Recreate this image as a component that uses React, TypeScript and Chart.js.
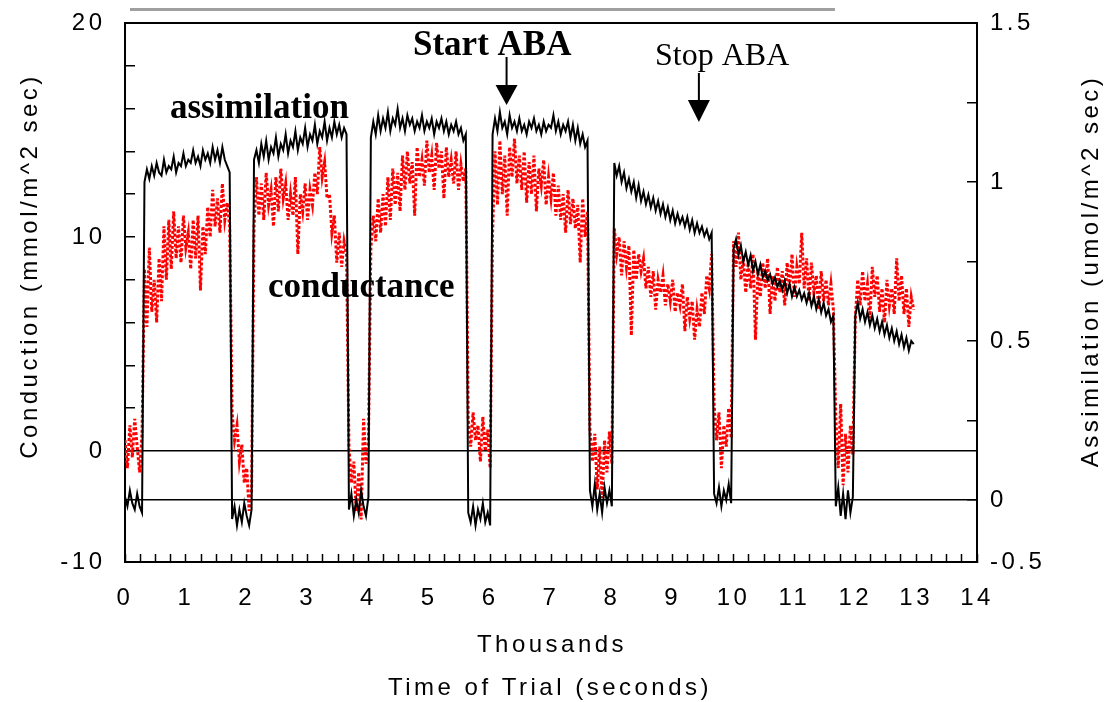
import React, { useEffect, useRef } from 'react';
import { Chart, registerables } from 'chart.js';

Chart.register(...registerables);

// ---- data (time in thousands of seconds, sampled every 0.04) ----
const SAMPLE_STEP = 0.04;

// Conductance (left axis, mmol/m^2 sec) – red dashed trace
const conductance: number[] = [
  // dark 0.00-0.28
  0.5, -0.8, 1.2, -0.3, 1.5, 0.2, -1.0, 0.8,
  // light 0.32-1.72
  8.5, 5.8, 9.5, 6.5, 8.0, 6.0, 9.0, 7.0, 10.5, 8.0, 10.8, 8.5, 11.2, 9.0, 10.5, 8.8,
  11.0, 9.5, 10.2, 8.5, 10.8, 9.0, 11.0, 7.5, 10.5, 9.2, 11.4, 10.0, 12.2, 10.5, 11.8, 10.2,
  12.5, 10.8, 11.6, 10.5,
  // dark 1.76-2.08
  1.8, 0.5, 1.2, -0.5, 0.3, -1.5, -0.8, -2.8, -1.8,
  // light 2.12-3.64
  10.5, 12.8, 11.0, 12.5, 10.8, 13.0, 11.5, 12.2, 10.5, 12.8, 11.2, 13.2, 11.8, 12.5, 10.8, 12.0,
  11.0, 12.8, 9.2, 12.0, 11.2, 12.5, 10.8, 12.2, 11.5, 13.0, 12.0, 14.2, 12.8, 13.5, 11.8, 12.0,
  10.2, 11.0, 8.8, 10.2, 8.6, 9.8, 9.2,
  // dark 3.68-4.00
  0.2, -1.5, -0.5, -2.8, -1.0, -3.2, 1.5, -0.6, 0.4,
  // light 4.04-5.60
  9.5, 11.0, 9.8, 11.8, 10.2, 12.0, 10.5, 12.8, 10.8, 13.2,
  11.5, 13.0, 11.2, 13.8, 12.2, 14.0, 12.5, 13.5, 11.0, 14.2,
  12.8, 13.6, 12.4, 14.5, 13.0, 13.8, 12.2, 14.4, 13.2, 14.0,
  11.8, 14.2, 12.8, 13.6, 12.5, 14.0, 12.2, 13.4, 12.6, 13.2,
  // dark 5.64-6.00
  1.5, 0.2, 1.8, 0.5, 1.2, -0.5, 1.6, 0.0, 1.0, -0.8,
  // light 6.04-7.60
  10.2, 14.0, 11.5, 14.5, 12.0, 13.8, 11.0, 14.2, 12.8, 14.6,
  12.5, 13.8, 12.2, 14.0, 11.6, 13.5, 12.0, 13.8, 11.2, 13.2,
  12.4, 13.6, 11.5, 12.8, 11.8, 13.0, 11.0, 12.4, 10.8, 12.0,
  10.2, 12.2, 10.6, 11.8, 10.4, 11.5, 8.8, 11.8, 10.0, 11.2,
  // dark 7.64-8.00
  1.0, -0.5, 0.8, -1.8, 0.2, -2.2, 0.5, -1.0, 0.9, -0.6,
  // light 8.04-9.64
  10.4, 9.2, 10.0, 8.2, 9.8, 8.6, 9.6, 5.4, 9.4, 8.0,
  9.2, 8.4, 9.0, 7.6, 8.6, 7.2, 8.4, 6.6, 8.0, 7.4,
  8.2, 6.8, 7.8, 7.0, 8.0, 6.5, 7.4, 6.8, 7.8, 5.6,
  7.2, 6.2, 7.0, 5.2, 6.6, 5.8, 7.4, 6.4, 8.2, 7.6,
  9.2,
  // dark 9.68-9.96
  2.2, 0.5, 1.8, -0.8, 1.2, 0.2, 2.0, 0.6,
  // light 10.00-11.64
  9.8, 8.6, 10.2, 8.0, 9.0, 7.4, 8.8, 7.6, 9.2, 5.2,
  8.4, 7.2, 8.8, 7.6, 9.0, 6.4, 8.2, 7.0, 8.6, 7.4,
  8.4, 6.8, 8.8, 7.6, 9.2, 7.2, 8.6, 7.8, 10.2, 7.6,
  9.0, 7.0, 8.8, 7.4, 8.2, 6.6, 8.4, 7.0, 8.0, 6.8,
  7.8, 6.6,
  // dark 11.68-11.96
  1.5, -0.8, 2.2, -1.6, 0.8, -1.0, 1.2, -0.2,
  // light 12.00-12.96
  6.2, 8.0, 6.8, 8.4, 7.0, 7.8, 6.2, 8.6, 7.2, 8.2,
  6.5, 7.6, 6.0, 8.0, 6.8, 7.6, 6.4, 9.0, 7.0, 8.2,
  6.4, 7.6, 5.8, 7.2, 6.6,
];

// Assimilation (right axis, umol/m^2 sec) – black solid trace
const assimilation: number[] = [
  // dark
  0.01, -0.02, 0.03, -0.01, -0.03, 0.02, -0.02, -0.04,
  // light
  1.00, 1.04, 1.01, 1.05, 1.02, 1.06, 1.03, 1.02, 1.07, 1.03,
  1.05, 1.04, 1.08, 1.03, 1.06, 1.05, 1.09, 1.05, 1.07, 1.06,
  1.10, 1.06, 1.08, 1.05, 1.10, 1.07, 1.09, 1.06, 1.11, 1.07,
  1.10, 1.06, 1.11, 1.07, 1.05, 1.03,
  // dark
  -0.06, -0.02, -0.08, -0.03, -0.07, -0.01, -0.05, -0.08, -0.03,
  // light
  1.07, 1.10, 1.06, 1.12, 1.08, 1.13, 1.07, 1.11, 1.09, 1.14,
  1.08, 1.12, 1.10, 1.15, 1.09, 1.13, 1.11, 1.16, 1.10, 1.14,
  1.12, 1.17, 1.11, 1.15, 1.13, 1.18, 1.12, 1.16, 1.14, 1.19,
  1.13, 1.17, 1.14, 1.19, 1.15, 1.18, 1.14, 1.17, 1.15,
  // dark
  -0.03, 0.02, -0.05, 0.00, -0.04, 0.03, -0.02, -0.05, 0.01,
  // light
  1.14, 1.19, 1.15, 1.21, 1.16, 1.20, 1.17, 1.22, 1.16, 1.20,
  1.18, 1.23, 1.17, 1.20, 1.16, 1.21, 1.18, 1.20, 1.16, 1.19,
  1.17, 1.21, 1.16, 1.19, 1.17, 1.20, 1.15, 1.19, 1.17, 1.20,
  1.16, 1.19, 1.15, 1.18, 1.16, 1.19, 1.15, 1.17, 1.13, 1.15,
  // dark
  -0.04, -0.07, -0.02, -0.08, -0.03, -0.06, -0.01, -0.07, -0.04, -0.08,
  // light
  1.15, 1.20, 1.16, 1.22, 1.17, 1.19, 1.15, 1.21, 1.17, 1.19,
  1.16, 1.20, 1.16, 1.18, 1.15, 1.19, 1.17, 1.20, 1.16, 1.18,
  1.15, 1.19, 1.16, 1.18, 1.17, 1.21, 1.16, 1.19, 1.15, 1.18,
  1.16, 1.19, 1.14, 1.18, 1.13, 1.17, 1.12, 1.15, 1.11, 1.13,
  // dark
  0.03, -0.02, 0.05, -0.03, 0.02, -0.04, 0.04, -0.01, 0.03, -0.02,
  // light
  1.06, 1.02, 1.05, 1.00, 1.03, 0.98, 1.01, 0.97, 1.00, 0.95,
  0.99, 0.94, 0.97, 0.93, 0.96, 0.92, 0.95, 0.91, 0.94, 0.90,
  0.93, 0.89, 0.92, 0.88, 0.91, 0.87, 0.90, 0.87, 0.89, 0.86,
  0.89, 0.85, 0.88, 0.84, 0.87, 0.84, 0.86, 0.83, 0.85, 0.82,
  0.84,
  // dark
  0.02, -0.01, 0.04, -0.02, 0.03, 0.00, 0.05, -0.01,
  // light
  0.79, 0.82, 0.77, 0.80, 0.75, 0.78, 0.74, 0.77, 0.72, 0.75,
  0.71, 0.74, 0.70, 0.72, 0.69, 0.71, 0.68, 0.70, 0.67, 0.69,
  0.66, 0.69, 0.65, 0.68, 0.64, 0.67, 0.64, 0.66, 0.63, 0.65,
  0.62, 0.65, 0.61, 0.64, 0.60, 0.63, 0.59, 0.62, 0.58, 0.60,
  0.56, 0.58,
  // dark
  -0.02, 0.04, -0.05, 0.02, -0.06, 0.03, -0.04, 0.01,
  // light
  0.58, 0.62, 0.57, 0.60, 0.56, 0.59, 0.55, 0.58, 0.54, 0.57,
  0.53, 0.56, 0.52, 0.55, 0.51, 0.54, 0.50, 0.53, 0.49, 0.52,
  0.48, 0.51, 0.47, 0.50, 0.49,
];

// axis ranges and tick labels as seen in the figure
const TIME_MIN = 0;
const TIME_MAX = 14;
const TIME_TICK_STEP = 0.25;
const COND_MIN = -5.19;
const COND_MAX = 20;
const condTickValues = [COND_MIN, 0, 2, 4, 6, 8, 10, 12, 14, 16, 18, 20];
const condTickLabels = ['-10', '0', '', '', '', '', '10', '', '', '', '', '20'];
const ASSIM_MIN = -0.195;
const ASSIM_MAX = 1.5;
const assimTickValues = [ASSIM_MIN, 0, 0.25, 0.5, 0.75, 1, 1.25, 1.5];
const assimTickLabels = ['-0.5', '0', '', '0.5', '', '1', '', '1.5'];

// event markers (thousands of seconds)
const START_ABA = 6.27;
const STOP_ABA = 9.43;

const SANS = '"Liberation Sans", Arial, sans-serif';
const SERIF = '"Liberation Serif", "Times New Roman", serif';

function drawLabel(
  ctx: CanvasRenderingContext2D,
  text: string,
  x: number,
  y: number,
  font: string,
  align: CanvasTextAlign,
  spacing: string,
  rotate = 0
) {
  ctx.save();
  ctx.translate(x, y);
  if (rotate) ctx.rotate(rotate);
  ctx.font = font;
  (ctx as any).letterSpacing = spacing;
  ctx.textAlign = align;
  ctx.textBaseline = 'alphabetic';
  ctx.fillStyle = '#000';
  ctx.fillText(text, 0, 0);
  ctx.restore();
}

function drawArrow(ctx: CanvasRenderingContext2D, x: number, y0: number, y1: number, headLen: number, headHalf: number) {
  ctx.save();
  ctx.strokeStyle = '#000';
  ctx.fillStyle = '#000';
  ctx.lineWidth = 2;
  ctx.beginPath();
  ctx.moveTo(x, y0);
  ctx.lineTo(x, y1 - headLen + 2);
  ctx.stroke();
  ctx.beginPath();
  ctx.moveTo(x - headHalf, y1 - headLen);
  ctx.lineTo(x + headHalf, y1 - headLen);
  ctx.lineTo(x, y1);
  ctx.closePath();
  ctx.fill();
  ctx.restore();
}

const decorPlugin = {
  id: 'decor',
  beforeDraw(chart: any) {
    (chart.ctx as any).letterSpacing = '3.5px';
  },
  afterDraw(chart: any) {
    const ctx: CanvasRenderingContext2D = chart.ctx;
    const { left, right, top } = chart.chartArea;
    const xs = chart.scales.x;

    ctx.save();
    // top frame line
    ctx.strokeStyle = '#000';
    ctx.lineWidth = 2;
    ctx.beginPath();
    ctx.moveTo(left - 1, top);
    ctx.lineTo(right + 1, top);
    ctx.stroke();
    // grey rule above the plot
    ctx.strokeStyle = '#a0a0a0';
    ctx.lineWidth = 3;
    ctx.beginPath();
    ctx.moveTo(130, 9.5);
    ctx.lineTo(835, 9.5);
    ctx.stroke();
    ctx.restore();

    // axis titles
    drawLabel(ctx, 'Thousands', 552, 652, `24px ${SANS}`, 'center', '3.5px');
    drawLabel(ctx, 'Time of Trial (seconds)', 550, 695, `24px ${SANS}`, 'center', '3.5px');
    drawLabel(ctx, 'Conduction (mmol/m^2 sec)', 37, 266, `24px ${SANS}`, 'center', '3.5px', -Math.PI / 2);
    drawLabel(ctx, 'Assimilation (umol/m^2 sec)', 1098, 271, `24px ${SANS}`, 'center', '3.5px', -Math.PI / 2);

    // annotations
    drawLabel(ctx, 'assimilation', 170, 118, `bold 35px ${SERIF}`, 'left', '0px');
    drawLabel(ctx, 'conductance', 268, 297, `bold 35px ${SERIF}`, 'left', '0px');
    drawLabel(ctx, 'Start ABA', 413, 55, `bold 35px ${SERIF}`, 'left', '0px');
    drawLabel(ctx, 'Stop ABA', 655, 65, `32px ${SERIF}`, 'left', '0px');

    drawArrow(ctx, xs.getPixelForValue(START_ABA), 57, 105, 20, 11);
    drawArrow(ctx, xs.getPixelForValue(STOP_ABA), 73, 122, 22, 11);
  },
};

const zeroPadding = (s: any) => {
  s.paddingTop = 0;
  s.paddingBottom = 0;
  s.paddingLeft = 0;
  s.paddingRight = 0;
};

export default function App() {
  const canvasRef = useRef<HTMLCanvasElement | null>(null);

  useEffect(() => {
    if (!canvasRef.current) return;
    const time = conductance.map((_, i) => Math.round(i * SAMPLE_STEP * 100) / 100);
    const condPoints = conductance.map((v, i) => ({ x: time[i], y: v }));
    const assimPoints = assimilation.map((v, i) => ({ x: time[i], y: v }));

    const tickFont = { family: SANS, size: 24 };

    const chart = new Chart(canvasRef.current, {
      type: 'line',
      data: {
        datasets: [
          {
            label: 'assimilation',
            data: assimPoints,
            yAxisID: 'yA',
            borderColor: '#000000',
            borderWidth: 2,
            pointRadius: 0,
            tension: 0,
            order: 1,
          },
          {
            label: 'conductance',
            data: condPoints,
            yAxisID: 'yC',
            borderColor: '#ff0000',
            borderWidth: 3,
            borderDash: [3, 2],
            pointRadius: 0,
            tension: 0,
            order: 2,
          },
        ],
      },
      options: {
        animation: false,
        responsive: false,
        devicePixelRatio: 1,
        layout: { padding: { top: 23, left: 0, right: 0, bottom: 0 } },
        plugins: {
          legend: { display: false },
          tooltip: { enabled: false },
        },
        scales: {
          x: {
            type: 'linear',
            position: 'bottom',
            min: TIME_MIN,
            max: TIME_MAX,
            afterFit: (s: any) => {
              s.height = 140;
              zeroPadding(s);
            },
            ticks: {
              stepSize: TIME_TICK_STEP,
              autoSkip: false,
              maxRotation: 0,
              minRotation: 0,
              padding: 30,
              color: '#000',
              font: tickFont,
              callback: (v: any) => (Number.isInteger(v) ? String(v) : ''),
            },
            grid: {
              drawOnChartArea: false,
              tickLength: -8,
              tickColor: '#000',
              tickWidth: 1.5,
            },
            border: { display: true, color: '#000', width: 2 },
          },
          yC: {
            type: 'linear',
            position: 'left',
            min: COND_MIN,
            max: COND_MAX,
            afterFit: (s: any) => {
              s.width = 125;
              zeroPadding(s);
            },
            afterBuildTicks: (s: any) => {
              s.ticks = condTickValues.map((v) => ({ value: v }));
            },
            ticks: {
              autoSkip: false,
              padding: 29.5,
              color: '#000',
              font: tickFont,
              callback: (_v: any, i: number) => condTickLabels[i],
            },
            grid: {
              color: (c: any) => (c.tick && c.tick.value === 0 ? '#000' : 'rgba(0,0,0,0)'),
              lineWidth: 1.5,
              tickLength: -10,
              tickColor: '#000',
              tickWidth: 1.5,
            },
            border: { display: true, color: '#000', width: 2 },
          },
          yA: {
            type: 'linear',
            position: 'right',
            min: ASSIM_MIN,
            max: ASSIM_MAX,
            afterFit: (s: any) => {
              s.width = 127;
              zeroPadding(s);
            },
            afterBuildTicks: (s: any) => {
              s.ticks = assimTickValues.map((v) => ({ value: v }));
            },
            ticks: {
              autoSkip: false,
              padding: 23,
              color: '#000',
              font: tickFont,
              callback: (_v: any, i: number) => assimTickLabels[i],
            },
            grid: {
              color: (c: any) => (c.tick && c.tick.value === 0 ? '#000' : 'rgba(0,0,0,0)'),
              lineWidth: 1.5,
              tickLength: -10,
              tickColor: '#000',
              tickWidth: 1.5,
            },
            border: { display: true, color: '#000', width: 2 },
          },
        },
      },
      plugins: [decorPlugin],
    } as any);

    return () => chart.destroy();
  }, []);

  return (
    <div style={{ position: 'absolute', left: 0, top: 0, width: 1104, height: 702, background: '#fff' }}>
      <canvas ref={canvasRef} width={1104} height={702} style={{ display: 'block', width: 1104, height: 702 }} />
    </div>
  );
}
